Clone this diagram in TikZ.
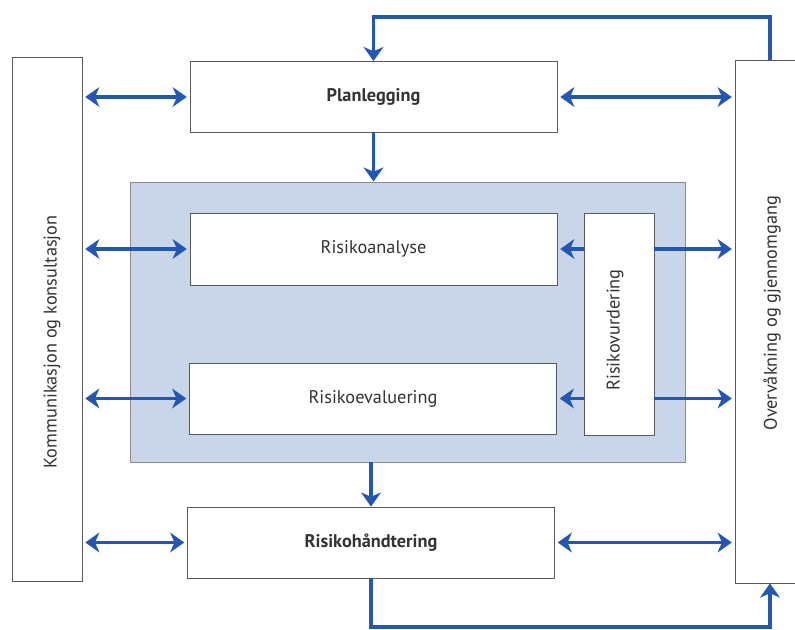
\documentclass[tikz,border=0pt]{standalone}
\usepackage{fontspec}
\setmainfont{PT Sans}
\usetikzlibrary{arrows.meta}
\definecolor{pilblaa}{HTML}{2457B2}
\definecolor{graablaa}{HTML}{C9D6EA}
\definecolor{kant}{HTML}{5A5A5A}
\definecolor{tekst}{HTML}{333333}
\newcommand\enh{0.025cm}
\begin{document}
\begin{tikzpicture}[
        x=0.025cm, y=-0.025cm,
        every node/.style={font=\fontsize{13}{15}\selectfont, text=tekst},
        boks/.style={draw=kant, fill=white, line width=0.6pt, inner sep=0pt, minimum width=367*\enh, minimum height=71*\enh},
        stolpe/.style={draw=kant, fill=white, line width=0.6pt, inner sep=0pt, minimum width=70*\enh},
        omraade/.style={draw=kant!70, fill=graablaa, line width=0.6pt, inner sep=0pt, minimum width=555*\enh, minimum height=280*\enh},
        pil/.style={draw=pilblaa, line width=2.8pt, -{Stealth[length=10pt, width=14pt, inset=3pt]}},
        dobbelpil/.style={pil, {Stealth[length=10pt, width=14pt, inset=3pt]}-{Stealth[length=10pt, width=14pt, inset=3pt]}, shorten <=2pt, shorten >=2pt}
    ]
    \useasboundingbox (0,0) rectangle (795,630);

    % Stolper paa sidene
    \node[stolpe, minimum height=524*\enh] (komm) at (47,319) {};
    \node[rotate=90] (kommtekst) at (52,342) {Kommunikasjon og konsultasjon};
    \node[stolpe, minimum height=523*\enh] (overv) at (770,321.5) {};
    \node[rotate=90] (overvtekst) at (772,313) {Overvåkning og gjennomgang};

    % Risikovurdering (graatt omraade)
    \node[omraade] (vurdering) at (407.5,322) {};
    \node[boks, font=\fontsize{13}{15}\selectfont\bfseries] (plan) at (373.5,97) {Planlegging};
    \node[boks, minimum height=72*\enh] (analyse) at (373.5,249) {Risikoanalyse};
    \node[boks] (evaluering) at (373,398.5) {Risikoevaluering};
    \node[stolpe, minimum height=222*\enh] (vurd) at (619,324) {};
    \node[rotate=90] (vurdtekst) at (615,330) {Risikovurdering};
    \node[boks, font=\fontsize{13}{15}\selectfont\bfseries] (handtering) at (371,542.5) {Risikohåndtering};

    % Hjelpepunkter for sloeyfene
    \coordinate (topp) at (0,17);
    \coordinate (bunn) at (0,627);

    % Piler
    \draw[pil] (plan.south) -- (plan.south |- vurdering.north);
    \draw[pil] (handtering.north |- vurdering.south) -- (handtering.north);
    \draw[pil] (overv.north) -- (overv.north |- topp) -| (plan.north);
    \draw[pil] (handtering.south) -- (handtering.south |- bunn) -| (overv.south);

    \draw[dobbelpil] (komm.east |- plan.west) -- (plan.west);
    \draw[dobbelpil] (komm.east |- analyse.west) -- (analyse.west);
    \draw[dobbelpil] (komm.east |- evaluering.west) -- (evaluering.west);
    \draw[dobbelpil] (komm.east |- handtering.west) -- (handtering.west);

    \draw[dobbelpil] (plan.east) -- (overv.west |- plan.east);
    \draw[dobbelpil] (handtering.east) -- (overv.west |- handtering.east);

    \draw[pil, shorten >=2pt] (vurd.west |- analyse.east) -- (analyse.east);
    \draw[pil, shorten >=2pt] (vurd.east |- analyse.east) -- (overv.west |- analyse.east);
    \draw[pil, shorten >=2pt] (vurd.west |- evaluering.east) -- (evaluering.east);
    \draw[pil, shorten >=2pt] (vurd.east |- evaluering.east) -- (overv.west |- evaluering.east);
\end{tikzpicture}
\end{document}
